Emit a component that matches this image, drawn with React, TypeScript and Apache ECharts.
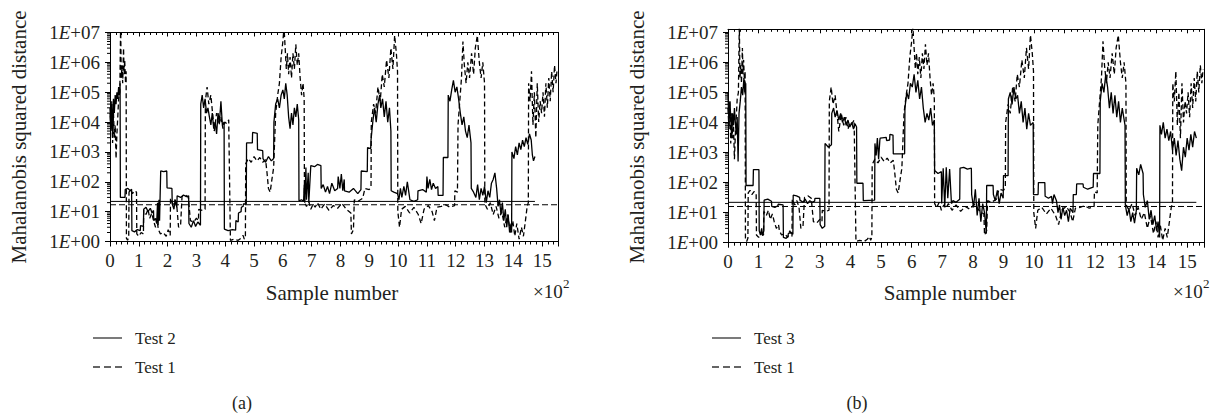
import React, { useEffect, useRef } from 'react';
import * as echarts from 'echarts';

// ---------- data ----------
const X_MAX = 1555;
const TEST2_END = 1475;
const TEST3_END = 1530;
const UCL_TEST2 = 22;
const UCL_TEST1_A = 17;
const UCL_TEST3 = 22;
const UCL_TEST1_B = 16;
const Y_MAX_A = 1e7;
const Y_MAX_B = 1.25e7;
const LOG_DECADES = [1, 10, 100, 1e3, 1e4, 1e5, 1e6];
const LOG_MULTIPLIERS = [2, 3, 4, 5, 6, 7, 8, 9];
const LEGEND_A = ['Test 2', 'Test 1'];
const LEGEND_B = ['Test 3', 'Test 1'];

const test1: number[][] = [
  [0, 3e4], [3, 6e3], [6, 5e4], [9, 2e3], [12, 2e4], [15, 3e3], [18, 8e3], [21, 600], [24, 4e3], [27, 1.5e4],
  [30, 6e4], [34, 1e5], [37, 2e7], [39, 3e5], [42, 8e5], [44, 2e5], [47, 3e6], [49, 4e5], [51, 1.2e6], [54, 2e5],
  [56, 5e5], [57, 1.3], [61, 1.1], [65, 1.4], [66, 45], [72, 55], [78, 40], [85, 50], [92, 45], [93, 1.8],
  [100, 1.5], [108, 2], [116, 1.8], [117, 11], [125, 8], [132, 12], [138, 6], [145, 9], [151, 5], [158, 3],
  [165, 4], [168, 2.5], [175, 1.8], [185, 2], [195, 1.5], [202, 2.5], [209, 1.6], [210, 28], [218, 18], [225, 25],
  [232, 15], [238, 3], [245, 3.5], [250, 32], [262, 36], [272, 30], [279, 5], [290, 4.5], [300, 6], [307, 5],
  [308, 12], [320, 11], [330, 12], [331, 5e4], [337, 1.5e5], [343, 4e4], [350, 8e4], [356, 2e4], [362, 5e3], [370, 2e4],
  [378, 8e3], [385, 1.5e4], [392, 6e3], [398, 1e4], [405, 9e3], [412, 1.2e4], [418, 1.1], [430, 1.2], [445, 1.1], [455, 1.3],
  [462, 1.6], [466, 1.2], [470, 1.5], [471, 400], [480, 600], [490, 450], [500, 700], [510, 500], [520, 650], [530, 450],
  [540, 550], [545, 200], [550, 60], [556, 45], [562, 120], [568, 300], [575, 2e4], [582, 8e4], [588, 2e5], [594, 1.5e6],
  [600, 5e6], [604, 1.5e7], [608, 3e6], [612, 6e5], [616, 2e6], [620, 4e5], [625, 1.5e6], [630, 3e5], [635, 2e6], [640, 6e5],
  [645, 4e6], [650, 8e5], [655, 2e6], [660, 3e5], [665, 8e4], [670, 2e5], [674, 6e4], [675, 20], [682, 15], [690, 22],
  [697, 12], [705, 18], [712, 14], [720, 20], [732, 12], [745, 18], [760, 11], [775, 16], [790, 13], [805, 19],
  [820, 12], [836, 9], [838, 1.8], [845, 2.5], [848, 25], [860, 22], [877, 28], [885, 60], [900, 55], [906, 70],
  [907, 1e4], [915, 4e4], [922, 2e4], [930, 1.5e5], [938, 5e4], [945, 4e5], [952, 1.5e5], [960, 1.2e6], [968, 3e5], [975, 3e6],
  [982, 6e5], [988, 8e6], [994, 2e6], [998, 5e5], [999, 10], [1005, 3], [1012, 12], [1025, 15], [1040, 9], [1055, 14],
  [1070, 8], [1080, 4], [1090, 12], [1105, 16], [1118, 10], [1126, 5], [1135, 14], [1150, 15], [1165, 17], [1180, 14],
  [1196, 16], [1197, 50], [1206, 45], [1208, 8e3], [1214, 5e4], [1220, 3e5], [1225, 5e6], [1230, 8e5], [1236, 2e5], [1242, 1e6],
  [1248, 3e5], [1255, 2e6], [1262, 4e5], [1268, 3e6], [1275, 8e6], [1282, 1e6], [1288, 3e5], [1294, 1e6], [1300, 2e5], [1301, 18],
  [1310, 12], [1320, 20], [1330, 8], [1340, 15], [1350, 6], [1360, 10], [1370, 3], [1380, 8], [1390, 2], [1398, 5],
  [1405, 1.5], [1412, 4], [1420, 1.2], [1428, 3], [1435, 1.5], [1442, 5], [1448, 15], [1452, 20], [1453, 2e5], [1458, 5e4],
  [1463, 5e5], [1468, 8e3], [1473, 1e5], [1478, 3e3], [1483, 2e5], [1488, 1e4], [1493, 5e4], [1498, 2e4], [1503, 1e5], [1508, 1.5e4],
  [1513, 2e5], [1518, 3e4], [1523, 3e5], [1528, 5e4], [1533, 5e5], [1538, 1e5], [1543, 8e5], [1548, 2e5], [1552, 6e5],
];

const test2: number[][] = [
  [0, 2e4], [3, 5e3], [6, 4e4], [9, 3e3], [12, 6e4], [15, 2e4], [18, 8e4], [21, 4e4], [24, 1e5], [27, 6e4],
  [30, 1.5e5], [33, 8e4], [35, 2e5], [36, 30], [45, 30], [52, 30], [53, 56], [62, 60], [70, 50], [75, 56],
  [76, 2.3], [85, 2.1], [95, 2.5], [105, 2.3], [106, 3.4], [116, 3.2], [117, 12], [125, 14], [132, 10], [140, 13],
  [146, 9], [151, 11], [152, 5], [158, 6], [162, 4], [165, 20], [167, 3.5], [170, 25], [172, 5], [176, 230],
  [186, 220], [197, 230], [198, 63], [215, 60], [216, 18], [222, 12], [226, 25], [232, 14], [233, 34], [245, 30],
  [255, 36], [265, 32], [273, 34], [274, 4], [282, 3], [290, 5], [297, 3.2], [305, 4.5], [314, 3.5], [315, 4e4],
  [320, 8e4], [325, 3e4], [330, 6e4], [335, 2e4], [340, 3e4], [345, 1.5e4], [350, 8e3], [355, 2e4], [360, 6e3], [365, 1e4],
  [370, 4e3], [375, 2e4], [380, 1e4], [385, 5e4], [390, 8e3], [396, 1e4], [397, 2.6], [410, 2.3], [425, 2.5], [436, 2.4],
  [437, 5], [445, 4.5], [446, 9], [455, 10], [456, 14], [462, 15], [463, 18], [473, 18], [474, 2000], [494, 2000],
  [495, 4500], [511, 4200], [512, 1200], [530, 1100], [531, 600], [540, 450], [550, 700], [560, 500], [568, 600], [569, 1e4],
  [575, 4e4], [582, 6e4], [588, 3e4], [594, 8e4], [600, 1.2e5], [605, 6e4], [610, 2e5], [615, 8e4], [620, 1.5e4], [625, 6e3],
  [630, 2e4], [635, 8e3], [640, 3e4], [645, 1.5e4], [650, 4e4], [655, 1.2e4], [656, 23], [665, 25], [672, 22], [674, 80],
  [676, 20], [680, 300], [682, 25], [688, 200], [690, 20], [697, 350], [710, 320], [720, 380], [732, 350], [733, 60],
  [740, 80], [748, 45], [755, 70], [762, 40], [770, 90], [780, 50], [790, 60], [792, 150], [798, 60], [803, 180],
  [808, 50], [813, 120], [814, 50], [830, 45], [845, 60], [860, 40], [871, 55], [872, 230], [893, 220], [894, 1400],
  [905, 1300], [906, 2500], [912, 1e4], [918, 3e4], [924, 1e4], [930, 4e4], [936, 8e4], [940, 3e4], [946, 6e4], [952, 1.5e4],
  [958, 5e4], [964, 1e4], [970, 3e4], [975, 5e3], [976, 50], [985, 45], [998, 40], [1003, 25], [1008, 60], [1013, 30],
  [1020, 70], [1026, 35], [1032, 100], [1038, 40], [1041, 25], [1055, 22], [1068, 25], [1069, 50], [1085, 55], [1098, 45],
  [1100, 150], [1104, 60], [1110, 120], [1116, 55], [1122, 90], [1130, 60], [1138, 70], [1139, 35], [1156, 35], [1157, 650],
  [1173, 650], [1174, 8e4], [1180, 5e4], [1186, 1.2e5], [1192, 2.5e5], [1198, 1e5], [1204, 1.5e5], [1210, 6e4], [1216, 2e4], [1222, 8e3],
  [1228, 1.5e4], [1234, 5e3], [1240, 3e3], [1246, 8e3], [1253, 2e3], [1254, 60], [1262, 45], [1270, 30], [1276, 80], [1282, 25],
  [1288, 60], [1294, 35], [1300, 70], [1306, 20], [1312, 50], [1318, 30], [1324, 90], [1330, 120], [1336, 200], [1342, 60],
  [1347, 15], [1352, 25], [1357, 8], [1362, 20], [1367, 5], [1372, 12], [1377, 3], [1382, 8], [1387, 2], [1392, 4],
  [1394, 2], [1395, 1000], [1402, 600], [1408, 1500], [1414, 800], [1420, 2000], [1426, 1200], [1432, 2500], [1438, 1500], [1444, 3000],
  [1450, 1800], [1456, 4000], [1462, 2500], [1466, 800], [1470, 500], [1475, 700],
];

const test3: number[][] = [
  [0, 1e5], [3, 8e3], [6, 5e4], [9, 1.5e4], [12, 3e3], [15, 2e4], [18, 8e3], [21, 3e4], [24, 1e4], [27, 4e3],
  [30, 1.5e4], [33, 500], [36, 2e4], [40, 5e4], [44, 1.5e5], [48, 8e4], [52, 3e5], [55, 1e5], [58, 2e5], [59, 80],
  [70, 80], [82, 80], [83, 270], [101, 270], [102, 2.5], [106, 1.8], [110, 3], [113, 1.7], [117, 2.5], [118, 26],
  [130, 28], [142, 24], [143, 16], [153, 15], [163, 17], [164, 19], [180, 18], [181, 1.5], [190, 1.4], [196, 1.6],
  [197, 2], [205, 2.2], [212, 1.9], [213, 38], [224, 36], [234, 32], [235, 26], [245, 22], [252, 28], [260, 20],
  [267, 25], [275, 22], [283, 24], [284, 30], [300, 30], [301, 4], [308, 3], [316, 3.5], [317, 2000], [328, 1500],
  [338, 1800], [339, 2e4], [345, 3e4], [350, 1.5e4], [356, 2.5e4], [362, 1.2e4], [368, 2e4], [374, 1e4], [380, 1.5e4], [386, 8e3],
  [392, 1.2e4], [398, 7e3], [404, 1e4], [410, 6e3], [415, 9e3], [420, 7e3], [421, 95], [441, 95], [442, 25], [479, 26],
  [480, 2000], [484, 800], [488, 3000], [492, 600], [496, 2500], [497, 3000], [517, 3200], [518, 2500], [528, 2600], [529, 4000],
  [539, 3800], [540, 900], [577, 900], [578, 3e4], [584, 1e5], [590, 6e4], [596, 2e5], [602, 1.5e5], [608, 4e5], [614, 1e5],
  [620, 2.5e5], [626, 6e4], [632, 1.5e5], [638, 3e4], [644, 1e4], [650, 2e4], [656, 1.2e4], [662, 3e4], [668, 8e3], [674, 1.2e4],
  [675, 250], [686, 200], [697, 230], [698, 20], [703, 300], [708, 15], [713, 320], [718, 30], [724, 280], [730, 20],
  [735, 25], [745, 22], [757, 28], [758, 300], [770, 320], [782, 280], [795, 300], [796, 40], [802, 15], [808, 60],
  [814, 8], [820, 30], [826, 5], [832, 20], [838, 10], [844, 2], [845, 80], [866, 80], [867, 40], [873, 25],
  [880, 55], [886, 20], [892, 45], [899, 30], [900, 170], [915, 170], [916, 6e4], [922, 1e5], [928, 4e4], [934, 1.5e5],
  [940, 6e4], [946, 8e4], [952, 2e4], [958, 5e4], [964, 1e4], [970, 3e4], [976, 6e3], [982, 2e4], [988, 8e3], [997, 1e4],
  [998, 40], [1013, 40], [1014, 100], [1035, 100], [1036, 35], [1047, 30], [1057, 35], [1060, 20], [1065, 40], [1073, 25],
  [1078, 10], [1083, 18], [1088, 6], [1094, 15], [1100, 8], [1106, 12], [1112, 5], [1118, 14], [1127, 10], [1128, 40],
  [1138, 40], [1139, 90], [1160, 90], [1161, 70], [1175, 60], [1193, 70], [1194, 200], [1215, 200], [1216, 5e4], [1222, 2e5],
  [1228, 1e5], [1234, 4e5], [1240, 1.5e5], [1246, 3e4], [1252, 1e5], [1258, 2e4], [1264, 8e4], [1270, 1.5e4], [1276, 5e4], [1282, 1e4],
  [1288, 3e4], [1297, 8e3], [1298, 18], [1304, 8], [1310, 14], [1316, 5], [1322, 10], [1328, 4.5], [1334, 12], [1335, 300],
  [1342, 180], [1348, 400], [1356, 200], [1357, 40], [1363, 15], [1370, 25], [1376, 6], [1382, 12], [1388, 4], [1394, 8],
  [1400, 2.5], [1405, 5], [1410, 1.5], [1411, 8e3], [1416, 4e3], [1422, 1e4], [1428, 3e3], [1434, 6e3], [1440, 2500], [1446, 5e3],
  [1452, 1200], [1458, 3000], [1464, 800], [1470, 2500], [1476, 600], [1482, 250], [1488, 1500], [1494, 700], [1500, 3000], [1506, 1200],
  [1512, 4000], [1518, 1500], [1524, 5000], [1530, 3000],
];

// ---------- styling ----------
const FONT = 'Liberation Serif';
const TEXT = '#231f20';
const INK = '#000';
const LINE_W = 1.3;

const minorTickValues = LOG_DECADES.flatMap((d) => LOG_MULTIPLIERS.map((m) => m * d));

function bottomX(gridIndex: number) {
  return {
    type: 'value', gridIndex, position: 'bottom', min: 0, max: X_MAX, interval: 100,
    axisLine: { show: true, onZero: false, lineStyle: { color: INK, width: 1 } },
    axisTick: { show: true, inside: false, length: 5, lineStyle: { color: INK, width: 1 } },
    minorTick: { show: true, splitNumber: 5, length: 3, lineStyle: { color: INK, width: 1 } },
    splitLine: { show: false }, minorSplitLine: { show: false },
    axisLabel: {
      show: true, margin: 9, color: TEXT, fontFamily: FONT, fontSize: 19, showMaxLabel: false,
      formatter: (v: number) => (v % 100 === 0 ? String(v / 100) : ''),
    },
  };
}
function topX(gridIndex: number) {
  return {
    type: 'value', gridIndex, position: 'top', min: 0, max: X_MAX, interval: 100,
    axisLine: { show: true, onZero: false, lineStyle: { color: INK, width: 1 } },
    axisTick: { show: true, inside: true, length: 4, lineStyle: { color: INK, width: 1 } },
    minorTick: { show: true, splitNumber: 5, length: 2.5, lineStyle: { color: INK, width: 1 } },
    splitLine: { show: false }, minorSplitLine: { show: false },
    axisLabel: { show: false },
  };
}
function leftY(gridIndex: number, max: number) {
  return {
    type: 'log', logBase: 10, gridIndex, position: 'left', min: 1, max,
    axisLine: { show: true, onZero: false, lineStyle: { color: INK, width: 1 } },
    axisTick: { show: true, inside: false, length: 5, lineStyle: { color: INK, width: 1 } },
    minorTick: { show: false }, splitLine: { show: false }, minorSplitLine: { show: false },
    axisLabel: {
      show: true, margin: 10, showMaxLabel: max === 1e7,
      formatter: (v: number) => {
        const e = Math.round(Math.log10(v));
        return '{n|1}{i|E}{n|+0' + e + '}';
      },
      rich: {
        n: { fontFamily: FONT, fontSize: 19, color: TEXT },
        i: { fontFamily: FONT, fontSize: 19, fontStyle: 'italic', color: TEXT },
      },
    },
  };
}
function rightY(gridIndex: number) {
  return {
    type: 'value', gridIndex, position: 'right', min: 0, max: 1,
    axisLine: { show: true, onZero: false, lineStyle: { color: INK, width: 1 } },
    axisTick: { show: false }, axisLabel: { show: false }, splitLine: { show: false },
  };
}
function dataLine(name: string, data: number[][], axis: number, dashed: boolean) {
  return {
    type: 'line', name, data, xAxisIndex: axis * 2, yAxisIndex: axis * 2,
    symbol: 'none', showSymbol: false, clip: true, z: 3,
    lineStyle: { color: INK, width: LINE_W, type: dashed ? [5, 3] : 'solid' },
    itemStyle: { color: INK },
  };
}
function uclLine(name: string, value: number, end: number, axis: number, dashed: boolean) {
  return {
    type: 'line', name, data: [[0, value], [end, value]], xAxisIndex: axis * 2, yAxisIndex: axis * 2,
    symbol: 'none', showSymbol: false, z: 4,
    lineStyle: { color: INK, width: 1, type: dashed ? [6, 3] : 'solid' },
  };
}
function minorTicks(axis: number) {
  return {
    type: 'custom', name: 'minor' + axis, xAxisIndex: axis * 2, yAxisIndex: axis * 2, silent: true, z: 5,
    data: minorTickValues.map((v) => [0, v]),
    renderItem: (_p: any, api: any) => {
      const pt = api.coord([api.value(0), api.value(1)]);
      return {
        type: 'line',
        shape: { x1: pt[0] - 3, y1: pt[1], x2: pt[0], y2: pt[1] },
        style: { stroke: INK, lineWidth: 1 },
      };
    },
  };
}
function txt(text: string, x: number, y: number, size: number, opts: any = {}) {
  return {
    type: 'text', x, y, rotation: opts.rotation || 0, silent: true,
    style: {
      text, fontFamily: FONT, fontSize: size, fill: TEXT,
      align: opts.align || 'center', verticalAlign: 'middle',
    },
  };
}
function legendGraphics(left: number, names: string[]) {
  const rows = [338, 367];
  const out: any[] = [];
  names.forEach((name, i) => {
    out.push({
      type: 'line', silent: true,
      shape: { x1: left, y1: rows[i], x2: left + 29, y2: rows[i] },
      style: { stroke: '#333', lineWidth: 1.3, lineDash: i === 0 ? null : [7, 4] },
    });
    out.push(txt(name, left + 42, rows[i], 17, { align: 'left' }));
  });
  return out;
}

const option: any = {
  animation: false,
  backgroundColor: '#fff',
  grid: [
    { left: 110, top: 32.5, width: 448, height: 209, outerBoundsMode: 'none', containLabel: false },
    { left: 728, top: 29.3, width: 476, height: 213.4, outerBoundsMode: 'none', containLabel: false },
  ],
  xAxis: [bottomX(0), topX(0), bottomX(1), topX(1)],
  yAxis: [leftY(0, Y_MAX_A), rightY(0), leftY(1, Y_MAX_B), rightY(1)],
  series: [
    dataLine('Test 2', test2, 0, false),
    dataLine('Test 1', test1, 0, true),
    uclLine('UCL Test 2', UCL_TEST2, TEST2_END, 0, false),
    uclLine('UCL Test 1 a', UCL_TEST1_A, X_MAX, 0, true),
    minorTicks(0),
    dataLine('Test 3', test3, 1, false),
    dataLine('Test 1', test1, 1, true),
    uclLine('UCL Test 3', UCL_TEST3, TEST3_END, 1, false),
    uclLine('UCL Test 1 b', UCL_TEST1_B, X_MAX, 1, true),
    minorTicks(1),
  ],
  graphic: [
    txt('Mahalanobis squared distance', 18.5, 137, 21, { rotation: Math.PI / 2 }),
    txt('Mahalanobis squared distance', 637, 137, 21, { rotation: Math.PI / 2 }),
    txt('Sample number', 332, 293, 21),
    txt('Sample number', 950, 293, 21),
    txt('×10', 533, 291, 19, { align: 'left' }),
    txt('2', 563, 283, 13, { align: 'left' }),
    txt('×10', 1173, 291, 19, { align: 'left' }),
    txt('2', 1203, 283, 13, { align: 'left' }),
    ...legendGraphics(93, LEGEND_A),
    ...legendGraphics(712, LEGEND_B),
    txt('(a)', 242, 403, 18),
    txt('(b)', 857, 403, 18),
  ],
};

export default function App() {
  const ref = useRef<HTMLDivElement>(null);
  useEffect(() => {
    const chart = echarts.init(ref.current as HTMLDivElement, null, { renderer: 'svg' });
    chart.setOption(option);
    return () => chart.dispose();
  }, []);
  return (
    <div
      ref={ref}
      style={{ position: 'fixed', left: 0, top: 0, width: 1223, height: 415, background: '#fff' }}
    />
  );
}
